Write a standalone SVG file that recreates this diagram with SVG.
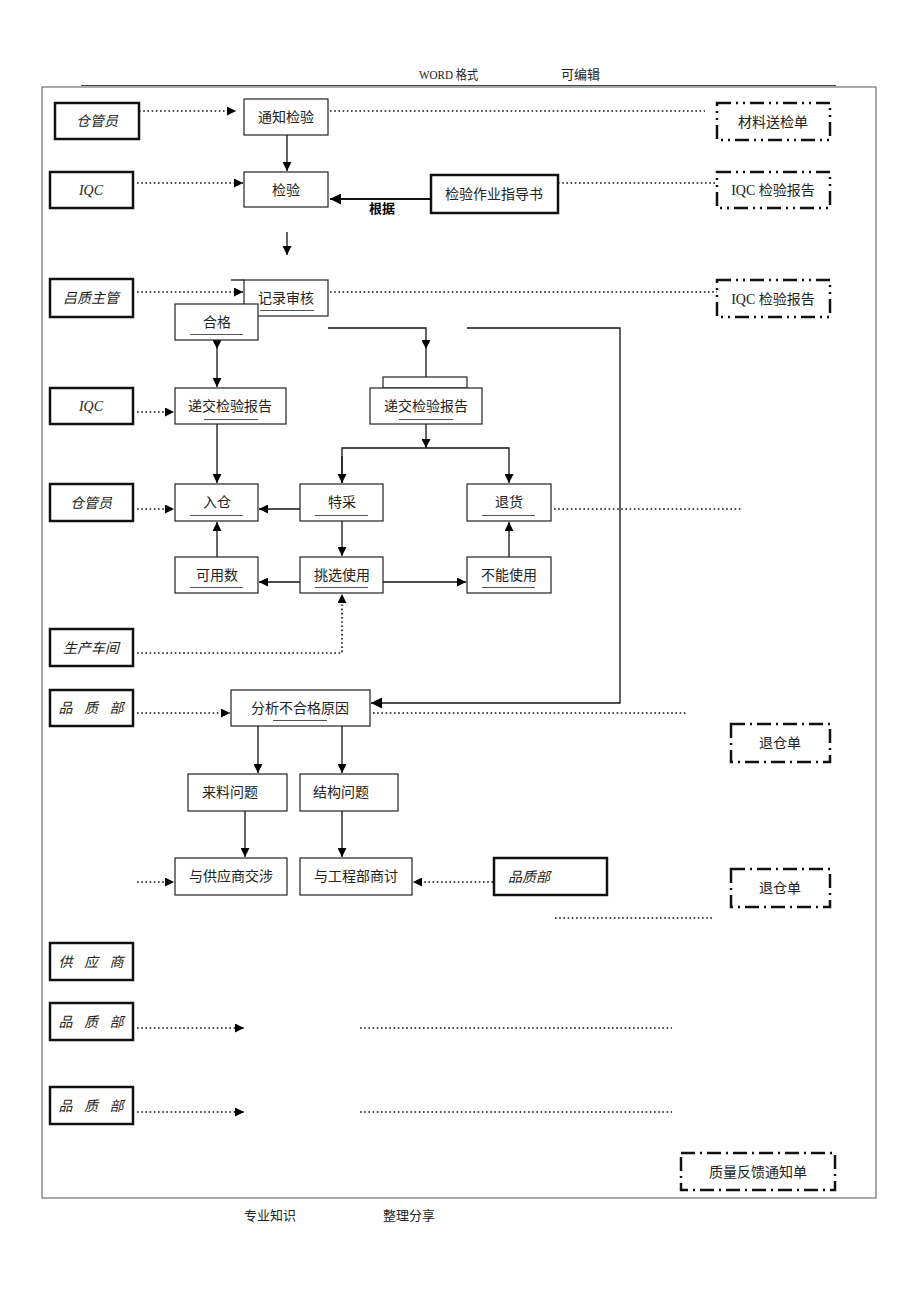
<svg xmlns="http://www.w3.org/2000/svg" width="920" height="1302" viewBox="0 0 920 1302">
<style>
text{font-family:"Liberation Serif","Noto Sans CJK SC",serif;font-size:14px;fill:#222;}
.it{font-style:italic;}
.sp{letter-spacing:4px;}
.hd{font-size:13px;}
.b{font-family:"Liberation Sans","Noto Sans CJK SC",sans-serif;font-weight:bold;font-size:13px;fill:#000;}
.actor{fill:#fff;stroke:#111;stroke-width:2.5;}
.proc{fill:#fff;stroke:#222;stroke-width:1.2;}
.doc{fill:#fff;stroke:#111;stroke-width:2.5;stroke-dasharray:14 5 2 5 2 5;}
.doc2{fill:#fff;stroke:#111;stroke-width:2.5;stroke-dasharray:14 5 2 5;}
.ln{fill:none;stroke:#111;stroke-width:1.3;}
.thk{fill:none;stroke:#111;stroke-width:2.2;}
.dot{fill:none;stroke:#111;stroke-width:1.6;stroke-dasharray:1.6 2.6;}
.ul{stroke:#555;stroke-width:1;}
</style>
<defs>
<marker id="ah" viewBox="0 0 10 10" refX="10" refY="5" markerWidth="9" markerHeight="9" markerUnits="userSpaceOnUse" orient="auto"><path d="M0,0 L10,5 L0,10 z" fill="#000"/></marker>
<marker id="ahb" viewBox="0 0 10 10" refX="10" refY="5" markerWidth="11" markerHeight="11" markerUnits="userSpaceOnUse" orient="auto"><path d="M0,0 L10,5 L0,10 z" fill="#000"/></marker>
</defs>
<rect width="920" height="1302" fill="#fff"/>
<g id="page">
<text class="hd" x="419" y="79" textLength="59" lengthAdjust="spacingAndGlyphs">WORD 格式</text>
<text class="hd" x="561" y="79">可编辑</text>
<line x1="81" y1="85.5" x2="836" y2="85.5" stroke="#444" stroke-width="1.2"/>
<rect x="42" y="87" width="834" height="1111" fill="none" stroke="#555" stroke-width="1"/>
<text class="hd" x="244" y="1220">专业知识</text>
<text class="hd" x="383" y="1220">整理分享</text>
</g>
<g id="connectors">
<path class="dot" d="M139,111 H236" marker-end="url(#ah)"/>
<path class="dot" d="M330,111 H705"/>
<path class="ln" d="M287,135 V171" marker-end="url(#ah)"/>
<path class="dot" d="M137,183 H243" marker-end="url(#ah)"/>
<path class="thk" d="M431,199 H330" marker-end="url(#ahb)"/>
<path class="dot" d="M558,183 H717"/>
<path class="ln" d="M287,232 V255" marker-end="url(#ah)"/>
<path class="dot" d="M137,292 H243" marker-end="url(#ah)"/>
<path class="dot" d="M330,292 H717"/>
<path class="ln" d="M217,328 H243"/>
<path class="ln" d="M217,328 V349" marker-end="url(#ah)"/>
<path class="ln" d="M217,349 V387" marker-end="url(#ah)"/>
<path class="ln" d="M328,328 H426 V349" marker-end="url(#ah)"/>
<path class="ln" d="M426,349 V387" marker-end="url(#ah)"/>
<path class="ln" d="M467,328 H620 V703 H371" marker-end="url(#ahb)"/>
<path class="dot" d="M137,412 H174" marker-end="url(#ah)"/>
<path class="ln" d="M217,424 V483" marker-end="url(#ah)"/>
<path class="ln" d="M426,424 V448" marker-end="url(#ah)"/>
<path class="ln" d="M342,483 V448 H509 V483" marker-end="url(#ah)"/>
<path class="ln" d="M342,456 V483" marker-end="url(#ah)"/>
<path class="ln" d="M300,509 H259" marker-end="url(#ah)"/>
<path class="dot" d="M137,509 H174" marker-end="url(#ah)"/>
<path class="dot" d="M554,509 H742"/>
<path class="ln" d="M342,521 V556" marker-end="url(#ah)"/>
<path class="ln" d="M217,557 V522" marker-end="url(#ah)"/>
<path class="ln" d="M509,557 V522" marker-end="url(#ah)"/>
<path class="ln" d="M300,582 H259" marker-end="url(#ah)"/>
<path class="ln" d="M383,582 H466" marker-end="url(#ah)"/>
<path class="dot" d="M137,653 H342 V594" marker-end="url(#ah)"/>
<path class="dot" d="M137,713 H230" marker-end="url(#ah)"/>
<path class="dot" d="M373,713 H687"/>
<path class="ln" d="M258,726 V773" marker-end="url(#ah)"/>
<path class="ln" d="M342,726 V773" marker-end="url(#ah)"/>
<path class="ln" d="M245,811 V857" marker-end="url(#ah)"/>
<path class="ln" d="M342,811 V857" marker-end="url(#ah)"/>
<path class="dot" d="M137,882 H174" marker-end="url(#ah)"/>
<path class="dot" d="M493,882 H413" marker-end="url(#ah)"/>
<path class="dot" d="M555,918 H714"/>
<path class="dot" d="M137,1028 H244" marker-end="url(#ah)"/>
<path class="dot" d="M360,1028 H672"/>
<path class="dot" d="M137,1112 H244" marker-end="url(#ah)"/>
<path class="dot" d="M360,1112 H672"/>
</g>
<g id="n-cgy1"><rect class="actor" x="55" y="103" width="84" height="36"/><text class="it" x="97" y="126" text-anchor="middle">仓管员</text></g>
<g id="n-tzjy"><rect class="proc" x="244" y="99" width="84" height="36"/><text x="286" y="122" text-anchor="middle">通知检验</text></g>
<g id="n-clsjd"><rect class="doc" x="717" y="103" width="113" height="37"/><text x="773" y="127" text-anchor="middle">材料送检单</text></g>
<g id="n-iqc1"><rect class="actor" x="50" y="172" width="83" height="36"/><text class="it" x="91" y="195" text-anchor="middle">IQC</text></g>
<g id="n-jy"><rect class="proc" x="244" y="172" width="84" height="35"/><text x="286" y="195" text-anchor="middle">检验</text></g>
<g id="n-zds"><rect class="actor" x="431" y="175" width="127" height="38"/><text x="494" y="199" text-anchor="middle">检验作业指导书</text></g>
<g id="n-gj"><text class="b" x="382" y="213" text-anchor="middle">根据</text></g>
<g id="n-iqcbg1"><rect class="doc" x="717" y="172" width="113" height="36"/><text x="773" y="195" text-anchor="middle">IQC 检验报告</text></g>
<g id="n-pzzg"><rect class="actor" x="50" y="279" width="83" height="38"/><text class="it" x="91" y="303" text-anchor="middle">吕质主管</text></g>
<g id="n-jlsh"><rect class="proc" x="244" y="280" width="84" height="36"/><line class="ln" x1="231" y1="280" x2="244" y2="280"/><text x="286" y="303" text-anchor="middle">记录审核</text><line class="ul" x1="260" y1="310.5" x2="314" y2="310.5"/></g>
<g id="n-iqcbg2"><rect class="doc" x="717" y="280" width="113" height="37"/><text x="773" y="304" text-anchor="middle">IQC 检验报告</text></g>
<g id="n-hg"><rect class="proc" x="175" y="304" width="83" height="36"/><text x="217" y="327" text-anchor="middle">合格</text><line class="ul" x1="190" y1="334.5" x2="243" y2="334.5"/></g>
<g id="n-iqc2"><rect class="actor" x="50" y="388" width="83" height="36"/><text class="it" x="91" y="411" text-anchor="middle">IQC</text></g>
<g id="n-djbg1"><rect class="proc" x="175" y="388" width="111" height="36"/><text x="230" y="411" text-anchor="middle">递交检验报告</text><line class="ul" x1="204" y1="419.5" x2="258" y2="419.5"/></g>
<g id="n-djbg2"><rect class="proc" x="383" y="377" width="84" height="11"/><rect class="proc" x="370" y="388" width="112" height="36"/><text x="426" y="411" text-anchor="middle">递交检验报告</text><line class="ul" x1="399" y1="419.5" x2="453" y2="419.5"/></g>
<g id="n-cgy2"><rect class="actor" x="50" y="484" width="83" height="37"/><text class="it" x="91" y="508" text-anchor="middle">仓管员</text></g>
<g id="n-rc"><rect class="proc" x="175" y="484" width="83" height="37"/><text x="217" y="507" text-anchor="middle">入仓</text><line class="ul" x1="190" y1="515.5" x2="243" y2="515.5"/></g>
<g id="n-tc"><rect class="proc" x="300" y="484" width="83" height="37"/><text x="342" y="507" text-anchor="middle">特采</text><line class="ul" x1="315" y1="515.5" x2="368" y2="515.5"/></g>
<g id="n-th"><rect class="proc" x="467" y="484" width="84" height="37"/><text x="509" y="507" text-anchor="middle">退货</text><line class="ul" x1="482" y1="515.5" x2="535" y2="515.5"/></g>
<g id="n-kys"><rect class="proc" x="175" y="557" width="83" height="36"/><text x="217" y="580" text-anchor="middle">可用数</text><line class="ul" x1="190" y1="587.5" x2="243" y2="587.5"/></g>
<g id="n-txsy"><rect class="proc" x="300" y="557" width="83" height="36"/><text x="342" y="580" text-anchor="middle">挑选使用</text><line class="ul" x1="315" y1="587.5" x2="368" y2="587.5"/></g>
<g id="n-bnsy"><rect class="proc" x="467" y="557" width="84" height="36"/><text x="509" y="580" text-anchor="middle">不能使用</text><line class="ul" x1="482" y1="587.5" x2="535" y2="587.5"/></g>
<g id="n-sccj"><rect class="actor" x="50" y="629" width="83" height="37"/><text class="it" x="91" y="653" text-anchor="middle">生产车间</text></g>
<g id="n-pzb1"><rect class="actor" x="50" y="690" width="83" height="36"/><text class="it sp" x="93" y="713" text-anchor="middle">品 质 部</text></g>
<g id="n-fx"><rect class="proc" x="231" y="690" width="139" height="36"/><text x="300" y="713" text-anchor="middle">分析不合格原因</text><line class="ul" x1="273" y1="720.5" x2="327" y2="720.5"/></g>
<g id="n-tcd1"><rect class="doc2" x="731" y="724" width="99" height="38"/><text x="780" y="748" text-anchor="middle">退仓单</text></g>
<g id="n-llwt"><rect class="proc" x="188" y="774" width="99" height="37"/><text x="202" y="797">来料问题</text></g>
<g id="n-jgwt"><rect class="proc" x="300" y="774" width="98" height="37"/><text x="313" y="797">结构问题</text></g>
<g id="n-gys-js"><rect class="proc" x="175" y="858" width="112" height="37"/><text x="231" y="881" text-anchor="middle">与供应商交涉</text></g>
<g id="n-gcb-st"><rect class="proc" x="300" y="858" width="112" height="37"/><text x="356" y="881" text-anchor="middle">与工程部商讨</text></g>
<g id="n-pzb2"><rect class="actor" x="494" y="858" width="113" height="37"/><text class="it" x="508" y="882">品质部</text></g>
<g id="n-tcd2"><rect class="doc2" x="731" y="869" width="99" height="38"/><text x="780" y="893" text-anchor="middle">退仓单</text></g>
<g id="n-gys"><rect class="actor" x="50" y="943" width="83" height="37"/><text class="it sp" x="93" y="967" text-anchor="middle">供 应 商</text></g>
<g id="n-pzb3"><rect class="actor" x="50" y="1003" width="83" height="37"/><text class="it sp" x="93" y="1027" text-anchor="middle">品 质 部</text></g>
<g id="n-pzb4"><rect class="actor" x="50" y="1087" width="83" height="37"/><text class="it sp" x="93" y="1111" text-anchor="middle">品 质 部</text></g>
<g id="n-zlfk"><rect class="doc2" x="681" y="1153" width="154" height="37"/><text x="758" y="1177" text-anchor="middle">质量反馈通知单</text></g>
</svg>
